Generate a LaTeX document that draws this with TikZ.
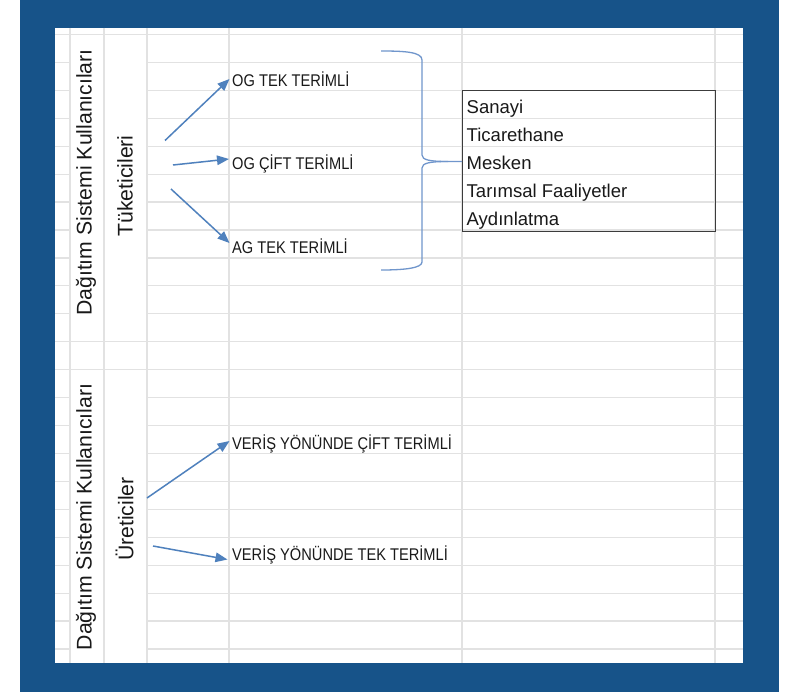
\documentclass[tikz,border=0pt]{standalone}
\usepackage{fontspec}
\setmainfont{Liberation Sans}
\newfontfamily\narrowlbl[FakeStretch=0.865]{Liberation Sans}
\usetikzlibrary{arrows.meta}
\definecolor{frameblue}{RGB}{23,83,137}
\definecolor{gridgray}{RGB}{226,226,226}
\definecolor{arrowblue}{RGB}{79,129,189}
\definecolor{bracecol}{RGB}{112,150,204}
\definecolor{boxgray}{RGB}{60,60,60}
\definecolor{txt}{RGB}{25,25,25}
\begin{document}
\begin{tikzpicture}[x=1bp,y=-1bp,
  gridline/.style={draw=gridgray,line width=1.2bp},
  conn/.style={draw=arrowblue,line width=1.5bp,-{Triangle[length=12bp,width=9.5bp]}},
  vlabel/.style={rotate=90,font=\fontsize{21.3}{24}\selectfont,text=txt,inner sep=0pt},
  tlabel/.style={anchor=base west,font=\narrowlbl\fontsize{17}{19}\selectfont,text=txt,inner sep=0pt},
  blabel/.style={anchor=base west,font=\fontsize{18.6}{21}\selectfont,text=txt,inner sep=0pt},
  bracestyle/.style={draw=bracecol,line width=1.3bp}
]
\useasboundingbox (0,0) rectangle (797,692);
\fill[white] (0,0) rectangle (797,692);
\fill[frameblue] (20,0) rectangle (779,692);
\fill[white] (55,28) rectangle (743,663);

% horizontal grid lines
\foreach \k in {0,...,22}{
  \pgfmathsetmacro\yy{34.5+27.93*\k}
  \ifnum\k=0
    \draw[gridline] (55,\yy) -- (743,\yy);
  \else\ifnum\k=11
    \draw[gridline] (55,\yy) -- (743,\yy);
  \else\ifnum\k=12
    \draw[gridline] (55,\yy) -- (743,\yy);
  \else
    \draw[gridline] (55,\yy) -- (70,\yy);
    \draw[gridline] (147,\yy) -- (743,\yy);
  \fi\fi\fi
}
% vertical grid lines
\foreach \xx in {70,104,147,229,462,715}{
  \draw[gridline] (\xx,28) -- (\xx,663);
}

% rotated labels
\node[vlabel] (dsk1) at (86,182.5) {Dağıtım Sistemi Kullanıcıları};
\node[vlabel] (tuk) at (125,186) {Tüketicileri};
\node[vlabel] (dsk2) at (86,517) {Dağıtım Sistemi Kullanıcıları};
\node[vlabel] (ure) at (124.5,519) {Üreticiler};

% target labels
\node[tlabel] (ogtek) at (232,87) {OG TEK TERİMLİ};
\node[tlabel] (ogcift) at (232,169) {OG ÇİFT TERİMLİ};
\node[tlabel] (agtek) at (232,253) {AG TEK TERİMLİ};
\node[tlabel] (vcift) at (232,449) {VERİŞ YÖNÜNDE ÇİFT TERİMLİ};
\node[tlabel] (vtek) at (232,560) {VERİŞ YÖNÜNDE TEK TERİMLİ};

% box
\node[draw=boxgray,line width=1bp,minimum width=253bp,minimum height=140.5bp,inner sep=0pt,anchor=north west] (box) at (462,90.5) {};
\node[blabel] (sanayi) at (466.5,114) {Sanayi};
\node[blabel] (ticaret) at (466.5,142) {Ticarethane};
\node[blabel] (mesken) at (466.5,169.5) {Mesken};
\node[blabel] (tarim) at (466.5,197.3) {Tarımsal Faaliyetler};
\node[blabel] (aydin) at (466.5,225) {Aydınlatma};

% arrows
\coordinate (a1s) at (165,140.5); \coordinate (a1e) at (229.5,79);
\coordinate (a2s) at (173,165);   \coordinate (a2e) at (229,159);
\coordinate (a3s) at (171,189);   \coordinate (a3e) at (229.5,243);
\coordinate (a4s) at (147,498);   \coordinate (a4e) at (229.5,441);
\coordinate (a5s) at (153,546);   \coordinate (a5e) at (227.5,559.5);
\draw[conn] (a1s) -- (a1e);
\draw[conn] (a2s) -- (a2e);
\draw[conn] (a3s) -- (a3e);
\draw[conn] (a4s) -- (a4e);
\draw[conn] (a5s) -- (a5e);

% brace
\coordinate (brtop) at (381,51);
\coordinate (brbot) at (381,270);
\coordinate (brtip) at (box.west |- 0,161.5);
\draw[bracestyle] (brtop) .. controls (405,51) and (422,52) .. (422,60)
  -- (422,155) .. controls (422,160) and (430,161.5) .. (448,161.5) -- (brtip);
\draw[bracestyle] (448,161.5) .. controls (430,161.5) and (422,163) .. (422,168)
  -- (422,262) .. controls (422,268) and (405,270) .. (brbot);
\end{tikzpicture}
\end{document}
